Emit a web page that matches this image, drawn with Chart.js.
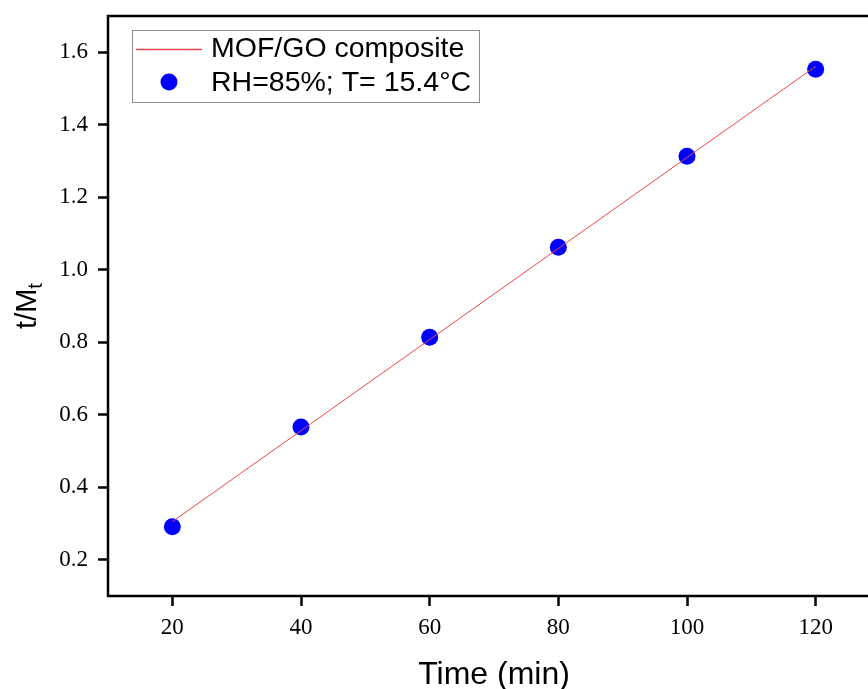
<!DOCTYPE html>
<html>
<head>
<meta charset="utf-8">
<script src="https://cdn.jsdelivr.net/npm/chart.js@4"></script>
<style>
  html, body { margin: 0; padding: 0; overflow: hidden; background: #fff; }
  #wrap { width: 900px; height: 689px; }
</style>
</head>
<body>
<div id="wrap"><canvas id="myChart" width="900" height="689"></canvas></div>
<script>
const ctx = document.getElementById("myChart").getContext("2d");

// measured points
const time_min = [20, 40, 60, 80, 100, 120];
const t_over_mt = [0.291, 0.566, 0.814, 1.062, 1.313, 1.553];

// fitted line, read at both ends
const fit_x = [20, 120];
const fit_y = [0.305, 1.561];

const x_ticks = [20, 40, 60, 80, 100, 120];
const y_ticks = [0.2, 0.4, 0.6, 0.8, 1.0, 1.2, 1.4, 1.6];

const fit_label = "MOF/GO composite";
const point_label = "RH=85%; T= 15.4°C";

const fit_color = "#e8474a";
const point_color = "#0000ff";

let fit_data = [];
for (let i = 0; i < fit_x.length; i++) {
  fit_data.push({ x: fit_x[i], y: fit_y[i] });
}
let point_data = [];
for (let i = 0; i < time_min.length; i++) {
  point_data.push({ x: time_min[i], y: t_over_mt[i] });
}

const sans = "'Liberation Sans', Arial, sans-serif";

// frame, axis titles and legend box
const extras = {
  id: "extras",
  afterDraw(chart) {
    const c = chart.ctx;
    const a = chart.chartArea;
    c.save();
    c.strokeStyle = "#000";
    c.lineWidth = 2.5;
    c.strokeRect(a.left, a.top, a.right - a.left, a.bottom - a.top);

    // x title
    c.fillStyle = "#000";
    c.font = "32px " + sans;
    c.textAlign = "center";
    c.textBaseline = "alphabetic";
    c.fillText("Time (min)", 494, 684);

    // y title with subscript
    c.save();
    c.translate(36, 306);
    c.rotate(-Math.PI / 2);
    c.textAlign = "left";
    c.font = "29px " + sans;
    const main = "t/M";
    const w = c.measureText(main).width;
    c.font = "20px " + sans;
    const ws = c.measureText("t").width;
    const x0 = -(w + ws) / 2;
    c.font = "29px " + sans;
    c.fillText(main, x0, 0);
    c.font = "20px " + sans;
    c.fillText("t", x0 + w, 6);
    c.restore();

    // legend
    const ds = chart.data.datasets;
    c.strokeStyle = "#8c8c8c";
    c.lineWidth = 1;
    c.strokeRect(132.5, 30.5, 347, 72);
    c.strokeStyle = fit_color;
    c.lineWidth = 1.3;
    c.beginPath();
    c.moveTo(136, 49.5);
    c.lineTo(202, 49.5);
    c.stroke();
    c.fillStyle = point_color;
    c.beginPath();
    c.arc(169, 82, 8.5, 0, Math.PI * 2);
    c.fill();
    c.fillStyle = "#000";
    c.font = "28.5px " + sans;
    c.textAlign = "left";
    c.textBaseline = "middle";
    c.fillText(ds[0].label, 211, 49);
    c.fillText(ds[1].label, 211, 83);
    c.restore();
  },
};

const tickFont = { family: "'Liberation Serif', 'Times New Roman', serif", size: 23 };

var myChart = new Chart(ctx, {
  type: "scatter",
  data: {
    datasets: [
      {
        label: fit_label,
        data: fit_data,
        showLine: true,
        borderColor: fit_color,
        borderWidth: 1,
        pointRadius: 0,
        tension: 0,
        fill: false,
        order: 1,
      },
      {
        label: point_label,
        data: point_data,
        backgroundColor: point_color,
        borderColor: point_color,
        borderWidth: 0,
        pointRadius: 8.5,
        order: 2,
      },
    ],
  },
  options: {
    responsive: false,
    animation: false,
    layout: { padding: { top: 16, right: 20, left: 0, bottom: 0 } },
    plugins: {
      legend: { display: false },
      tooltip: { enabled: false },
      title: { display: false },
    },
    scales: {
      x: {
        type: "linear",
        min: 10,
        max: 130,
        afterBuildTicks: (s) => { s.ticks = x_ticks.map((v) => ({ value: v })); },
        afterFit: (s) => {
          s.height = 93;
          s.paddingLeft = 0;
          s.paddingRight = 0;
        },
        border: { display: false },
        grid: {
          drawOnChartArea: false,
          drawTicks: true,
          tickLength: 10,
          tickWidth: 2.5,
          tickColor: "#000",
        },
        ticks: { color: "#000", font: tickFont, padding: 8, maxRotation: 0 },
      },
      y: {
        type: "linear",
        min: 0.1,
        max: 1.7,
        afterBuildTicks: (s) => { s.ticks = y_ticks.map((v) => ({ value: v })); },
        afterFit: (s) => {
          s.width = 108;
          s.paddingTop = 0;
          s.paddingBottom = 0;
        },
        border: { display: false },
        grid: {
          drawOnChartArea: false,
          drawTicks: true,
          tickLength: 10,
          tickWidth: 2.5,
          tickColor: "#000",
        },
        ticks: {
          color: "#000",
          font: tickFont,
          padding: 10,
          callback: (v) => Number(v).toFixed(1),
        },
      },
    },
  },
  plugins: [extras],
});
</script>
</body>
</html>
